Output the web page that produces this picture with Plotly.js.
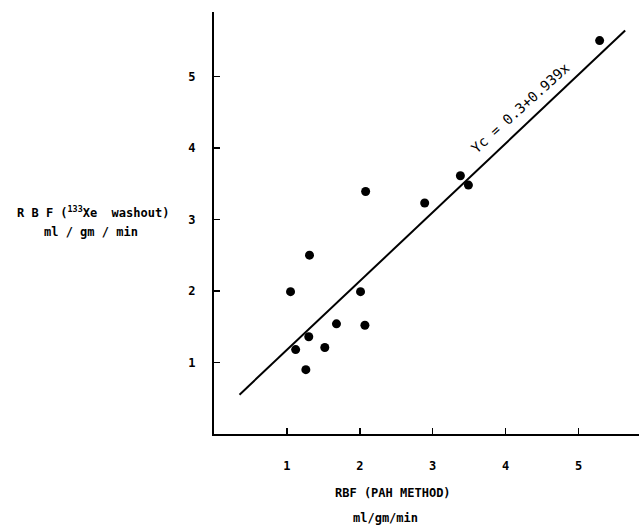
<!DOCTYPE html>
<html><head><meta charset="utf-8">
<script src="https://cdn.plot.ly/plotly-3.0.1.min.js"></script>
<style>html,body{margin:0;padding:0;background:#fff}#chart{width:639px;height:529px}</style>
</head><body><div id="chart"></div>
<script>
// RBF by PAH method (x) vs 133Xe washout (y), ml/gm/min
const pahX = [1.05, 1.31, 2.08, 2.89, 3.38, 3.49, 5.29, 2.01, 1.68, 2.07, 1.30, 1.12, 1.52, 1.26];
const xeY  = [1.99, 2.50, 3.39, 3.23, 3.61, 3.48, 5.50, 1.99, 1.54, 1.52, 1.36, 1.18, 1.21, 0.90];
// regression line Yc = 0.3 + 0.939x, endpoints as drawn
const fitX = [0.35, 5.64];
const fitY = [0.55, 5.64];
const tickVals = [1, 2, 3, 4, 5];
const tickText = ['1', '2', '3', '4', '5'];

const font = {family: 'DejaVu Sans Mono', size: 12, color: '#000'};

const data = [
  {x: fitX, y: fitY, mode: 'lines', line: {color: '#000', width: 2}, hoverinfo: 'skip'},
  {x: pahX, y: xeY, mode: 'markers', marker: {color: '#000', size: 9}}
];

const layout = {
  width: 639, height: 529,
  margin: {l: 214, r: 0, t: 12, b: 95},
  paper_bgcolor: '#fff', plot_bgcolor: '#fff',
  showlegend: false,
  font: font,
  xaxis: {
    range: [0, 5.83], showgrid: false, zeroline: false,
    showline: true, linecolor: '#000', linewidth: 2,
    ticks: 'inside', ticklen: 6, tickwidth: 1.5, tickcolor: '#000',
    tickvals: tickVals, ticktext: tickText, ticklabelstandoff: 20,
    tickfont: {family: 'DejaVu Sans Mono', size: 12, color: '#000', weight: 'bold'}
  },
  yaxis: {
    range: [0, 5.9], showgrid: false, zeroline: false,
    showline: true, linecolor: '#000', linewidth: 2,
    ticks: 'inside', ticklen: 6, tickwidth: 1.5, tickcolor: '#000',
    tickvals: tickVals, ticktext: tickText, ticklabelstandoff: 14,
    tickfont: {family: 'DejaVu Sans Mono', size: 12, color: '#000', weight: 'bold'}
  },
  annotations: [
    {xref: 'paper', yref: 'paper', x: (93 - 214) / 425, y: (434 - 212) / 422,
     xanchor: 'center', yanchor: 'middle', showarrow: false,
     text: 'R B F (<sup>133</sup>Xe  washout)', font: {family: 'DejaVu Sans Mono', size: 12, weight: 'bold'}},
    {xref: 'paper', yref: 'paper', x: (91 - 214) / 425, y: (434 - 232) / 422,
     xanchor: 'center', yanchor: 'middle', showarrow: false,
     text: 'ml / gm / min', font: {family: 'DejaVu Sans Mono', size: 12, weight: 'bold'}},
    {xref: 'paper', yref: 'paper', x: (393 - 214) / 425, y: (434 - 493) / 422,
     xanchor: 'center', yanchor: 'middle', showarrow: false,
     text: 'RBF (PAH METHOD)', font: {family: 'DejaVu Sans Mono', size: 12, weight: 'bold'}},
    {xref: 'paper', yref: 'paper', x: (385 - 214) / 425, y: (434 - 518) / 422,
     xanchor: 'center', yanchor: 'middle', showarrow: false,
     text: 'ml/gm/min', font: {family: 'DejaVu Sans Mono', size: 12, weight: 'bold'}},
    {xref: 'x', yref: 'y', x: 4.20, y: 4.56, showarrow: false, textangle: -42,
     xanchor: 'center', yanchor: 'middle',
     text: 'Yc = 0.3+0.939x', font: {family: 'DejaVu Sans Mono', size: 14}}
  ]
};

Plotly.newPlot('chart', data, layout, {displayModeBar: false, staticPlot: true});
</script></body></html>
